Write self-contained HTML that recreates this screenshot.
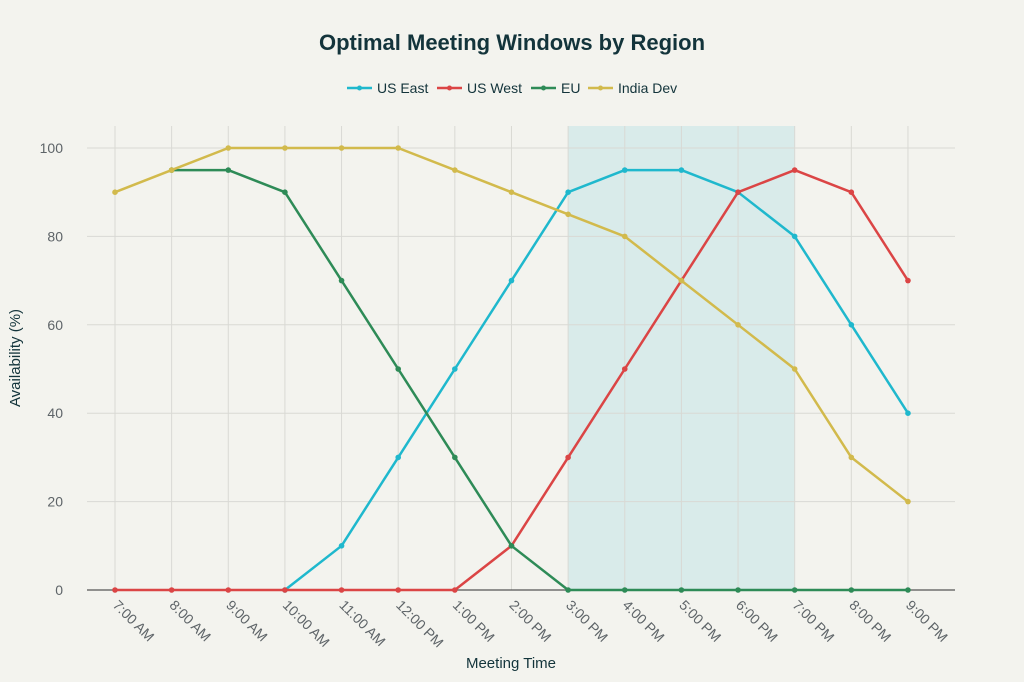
<!DOCTYPE html>
<html><head><meta charset="utf-8"><style>
html,body{margin:0;padding:0;background:#F3F3EE;}
svg{display:block;font-family:"Liberation Sans",sans-serif;}
</style></head><body>
<svg id="c" width="1024" height="682" viewBox="0 0 1024 682" xmlns="http://www.w3.org/2000/svg">
<rect width="1024" height="682" fill="#F3F3EE"/>
<text x="512" y="50" text-anchor="middle" font-size="22" font-weight="bold" fill="#13343B">Optimal Meeting Windows by Region</text>
<g font-size="14" fill="#13343B">
<line x1="347" y1="88" x2="372" y2="88" stroke="#1FB8CD" stroke-width="2.5"/><circle cx="359.5" cy="88" r="2.5" fill="#1FB8CD"/><text x="377" y="93">US East</text>
<line x1="437" y1="88" x2="462" y2="88" stroke="#DB4545" stroke-width="2.5"/><circle cx="449.5" cy="88" r="2.5" fill="#DB4545"/><text x="467" y="93">US West</text>
<line x1="531" y1="88" x2="556" y2="88" stroke="#2E8B57" stroke-width="2.5"/><circle cx="543.5" cy="88" r="2.5" fill="#2E8B57"/><text x="561" y="93">EU</text>
<line x1="588" y1="88" x2="613" y2="88" stroke="#D2BA4C" stroke-width="2.5"/><circle cx="600.5" cy="88" r="2.5" fill="#D2BA4C"/><text x="618" y="93">India Dev</text>
</g>
<rect x="568" y="126" width="227" height="464" fill="#1FB8CD" fill-opacity="0.12"/>
<g id="grid"></g>
<g id="series"></g>
<text transform="translate(20,358) rotate(-90)" text-anchor="middle" font-size="15" fill="#13343B">Availability (%)</text>
<text x="511" y="668" text-anchor="middle" font-size="15" fill="#13343B">Meeting Time</text>
</svg>
<script>
var ns="http://www.w3.org/2000/svg";
function X(i){return 115+i*56.64;}
function Y(v){return 590-v*4.42;}
function el(t,a,p,txt){var e=document.createElementNS(ns,t);for(var k in a)e.setAttribute(k,a[k]);if(txt)e.textContent=txt;p.appendChild(e);return e;}
var g=document.getElementById('grid');
var labels=["7:00 AM","8:00 AM","9:00 AM","10:00 AM","11:00 AM","12:00 PM","1:00 PM","2:00 PM","3:00 PM","4:00 PM","5:00 PM","6:00 PM","7:00 PM","8:00 PM","9:00 PM"];
for(var v=20;v<=100;v+=20){el('line',{x1:87,x2:955,y1:Y(v),y2:Y(v),stroke:'#D9D9D4','stroke-width':1},g);}
for(var v=0;v<=100;v+=20){el('text',{x:63,y:Y(v)+5,'text-anchor':'end','font-size':14,fill:'#5E6468'},g,String(v));}
for(var i=0;i<15;i++){el('line',{x1:X(i),x2:X(i),y1:126,y2:590,stroke:'#D9D9D4','stroke-width':1},g);
el('text',{transform:'translate('+(X(i)-3)+',606) rotate(45)','font-size':14,fill:'#5E6468'},g,labels[i]);}
el('line',{x1:87,x2:955,y1:590,y2:590,stroke:'#555','stroke-width':1.2},g);
var S=[
["#1FB8CD",[0,0,0,0,10,30,50,70,90,95,95,90,80,60,40],3],
["#DB4545",[0,0,0,0,0,0,0,10,30,50,70,90,95,90,70],0],
["#2E8B57",[null,95,95,90,70,50,30,10,0,0,0,0,0,0,0],1],
["#D2BA4C",[90,95,100,100,100,100,95,90,85,80,70,60,50,30,20],0]];
var s=document.getElementById('series');
S.forEach(function(d){var pts=[];var c=[];d[1].forEach(function(v,i){if(v===null||i<d[2])return;pts.push(X(i)+','+Y(v));c.push([X(i),Y(v)]);});
el('polyline',{points:pts.join(' '),fill:'none',stroke:d[0],'stroke-width':2.5,'stroke-linejoin':'round'},s);
c.forEach(function(p){el('circle',{cx:p[0],cy:p[1],r:2.8,fill:d[0]},s);});});
</script>
</body></html>
